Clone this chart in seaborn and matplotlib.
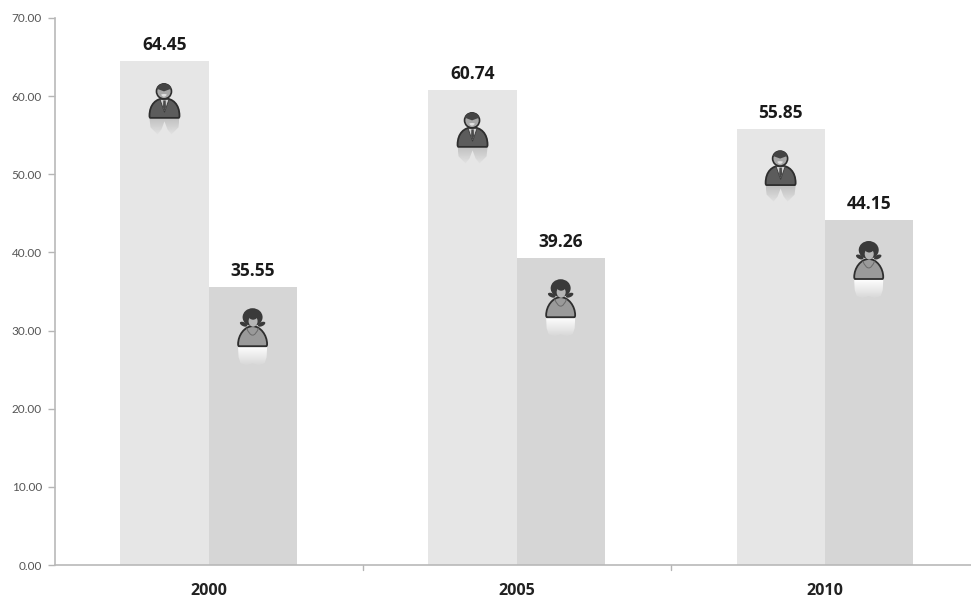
import matplotlib
matplotlib.use('Agg')
import matplotlib.pyplot as plt
import matplotlib.transforms as mtransforms
from matplotlib.patches import Circle, PathPatch, Ellipse, Polygon, Wedge
from matplotlib.path import Path
import numpy as np
import pandas as pd
import seaborn as sns

# Values
years = ['2000', '2005', '2010']
male = [64.45, 60.74, 55.85]
female = [35.55, 39.26, 44.15]
y_ticks = [0, 10, 20, 30, 40, 50, 60, 70]

df = pd.DataFrame({
    'year': years * 2,
    'value': male + female,
    'sex': ['Male'] * 3 + ['Female'] * 3,
})

sns.set_theme(style='white')
plt.rcParams['font.family'] = ['Lato', 'DejaVu Sans']

fig = plt.figure(figsize=(9.71, 5.99), dpi=100)
ax = fig.add_axes([54.5 / 971, 1 - 565 / 599, (971 - 54.5) / 971, (565 - 18) / 599])

sns.barplot(data=df, x='year', y='value', hue='sex', palette={'Male': '#e6e6e6', 'Female': '#d6d6d6'},
            width=0.572, gap=0, saturation=1, legend=False, linewidth=0, edgecolor='none', ax=ax)

ax.set_yticks(y_ticks)
ax.set_yticklabels([f'{v:.2f}' for v in y_ticks], fontsize=8.5, color='#555555')
ax.set_xticks([0, 1, 2])
ax.set_xticklabels(years, fontsize=11.6, fontweight='bold', color='#222222', family=['Open Sans', 'DejaVu Sans'])
ax.set_xlabel('')
ax.set_ylabel('')
ax.tick_params(axis='y', length=5, width=1, color='#b5b5b5', pad=4, left=True)
ax.tick_params(axis='x', length=0, pad=13)
for side in ['top', 'right']:
    ax.spines[side].set_visible(False)
for side in ['left', 'bottom']:
    ax.spines[side].set_color('#b9b9b9')
    ax.spines[side].set_linewidth(1.2)


# Place an icon in pixels relative to the top of its bar (y grows upward)
def anchor(x, top):
    return mtransforms.Affine2D() + mtransforms.ScaledTranslation(x, top, ax.transData)


# Mirror image under an icon, fading downward
def add_reflection(tr, verts, top, bottom, half, color, alpha0):
    rgb = matplotlib.colors.to_rgb(color)
    fade = np.zeros((32, 1, 4))
    fade[:, :, :3] = rgb
    fade[:, 0, 3] = np.linspace(alpha0, 0.05, 32)
    im = ax.imshow(fade, extent=(-half, half, bottom, top), aspect='auto', origin='upper', zorder=3)
    im.set_transform(tr)
    clip = Polygon(verts, transform=tr, facecolor='none', edgecolor='none')
    ax.add_patch(clip)
    im.set_clip_path(clip)


def body(half, base, top, shoulder=0.7):
    verts = [(-half + 1, base), (-half, base), (-half, base + 2), (-half, base + (top - base) * shoulder),
             (-half * 0.55, top), (0, top), (half * 0.55, top), (half, base + (top - base) * shoulder),
             (half, base + 2), (half, base), (half - 1, base), (-half + 1, base)]
    codes = [Path.MOVETO, Path.CURVE3, Path.CURVE3, Path.CURVE4, Path.CURVE4, Path.CURVE4,
             Path.CURVE4, Path.CURVE4, Path.CURVE4, Path.CURVE3, Path.CURVE3, Path.CLOSEPOLY]
    return Path(verts, codes)


def draw_man(x, top):
    tr = anchor(x, top)
    lobes = [(-15, -57), (-14, -66), (-7, -73), (-3, -68), (0, -60), (3, -68), (7, -73), (14, -66), (15, -57)]
    add_reflection(tr, lobes, -57, -74, 15, '#b0b0b0', 0.7)
    ax.add_patch(PathPatch(body(15, -56.5, -37), facecolor='#5c5c5c', edgecolor='#2e2e2e', lw=1.3, transform=tr, zorder=4))
    ax.add_patch(Polygon([(-4.5, -38), (4.5, -38), (0, -51)], facecolor='#d0d0d0', edgecolor='#3a3a3a', lw=0.6, transform=tr, zorder=5))
    ax.add_patch(Polygon([(-1.2, -39), (1.2, -39), (1.5, -46), (0, -50), (-1.5, -46)], facecolor='#4a4a4a', edgecolor='none', transform=tr, zorder=6))
    ax.add_patch(Circle((-0.5, -30), 7.5, facecolor='#a8a8a8', edgecolor='#2e2e2e', lw=1.2, transform=tr, zorder=5))
    ax.add_patch(Wedge((-0.5, -30), 7.8, 20, 160, facecolor='#444444', edgecolor='none', transform=tr, zorder=6))
    ax.add_patch(Wedge((-0.5, -32.5), 2.8, 190, 350, facecolor='#e0e0e0', edgecolor='none', transform=tr, zorder=6))


def draw_woman(x, top):
    tr = anchor(x, top)
    skirt = [(-14.5, -60), (-14, -70), (-12, -76), (-6, -78), (0, -76), (6, -78), (12, -76), (14, -70), (14.5, -60)]
    add_reflection(tr, skirt, -60, -78, 15, '#ffffff', 0.95)
    ax.add_patch(PathPatch(body(14.5, -59, -39, 0.55), facecolor='#9a9a9a', edgecolor='#2e2e2e', lw=1.3, transform=tr, zorder=5))
    # hair: round crown with small flicks resting on the shoulders
    ax.add_patch(Ellipse((-9, -37), 8, 4, angle=-25, facecolor='#3a3a3a', edgecolor='none', transform=tr, zorder=6))
    ax.add_patch(Ellipse((9, -37), 8, 4, angle=25, facecolor='#3a3a3a', edgecolor='none', transform=tr, zorder=6))
    ax.add_patch(Ellipse((0, -30), 20, 18, facecolor='#3a3a3a', edgecolor='none', transform=tr, zorder=6))
    ax.add_patch(Ellipse((0.5, -34), 9, 11, facecolor='#b5b5b5', edgecolor='none', transform=tr, zorder=7))
    ax.add_patch(Wedge((0.5, -27.5), 5, 190, 350, facecolor='#3a3a3a', edgecolor='none', transform=tr, zorder=8))
    ax.add_patch(PathPatch(Path([(-6, -41), (0, -55), (6, -41)], [Path.MOVETO, Path.CURVE3, Path.CURVE3]),
                           facecolor='none', edgecolor='#6a6a6a', lw=0.7, transform=tr, zorder=7))


# Data labels and icons
offset = 0.286 / 2
label_style = dict(xytext=(0, 5), textcoords='offset points', ha='center', va='bottom', fontsize=12.5,
                   fontweight='bold', color='#1a1a1a', family=['Open Sans', 'DejaVu Sans'])
for i in range(len(years)):
    ax.annotate(f'{male[i]:.2f}', (i - offset, male[i]), **label_style)
    ax.annotate(f'{female[i]:.2f}', (i + offset, female[i]), **label_style)
    draw_man(i - offset, male[i])
    draw_woman(i + offset, female[i])

for x in [0.5, 1.5]:
    ax.plot([x, x], [0, -0.7], color='#b5b5b5', lw=1, clip_on=False)
ax.set_xlim(-0.5, 2.475)
ax.set_ylim(0, 70)

fig.savefig('out.png', dpi=100)
